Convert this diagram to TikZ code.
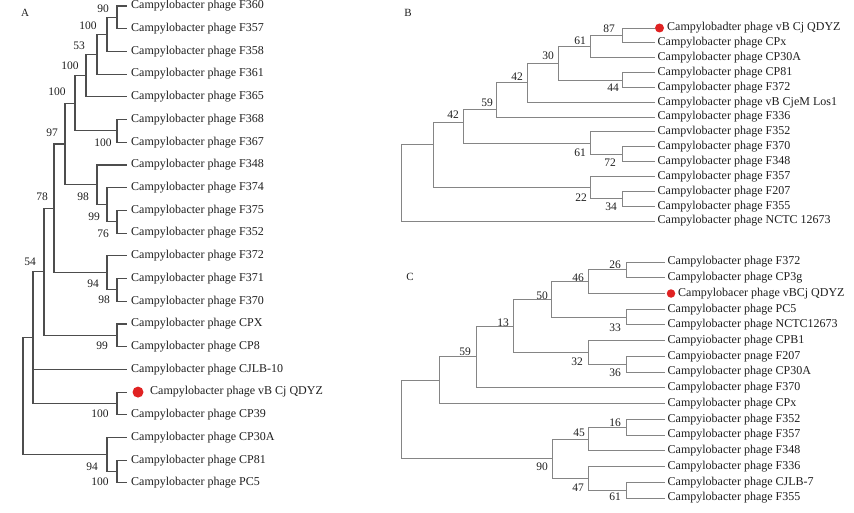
\documentclass[tikz,border=0pt]{standalone}
\usepackage{fontspec}
\setmainfont{Liberation Serif}
\definecolor{txt}{HTML}{1E1E1E}
\definecolor{edAc}{HTML}{4D4D4D}
\definecolor{edBc}{HTML}{858585}
\definecolor{dotred}{HTML}{E02222}
\tikzset{
 leaf/.style={anchor=west, inner xsep=4pt, inner ysep=0pt, text=txt, font=\fontsize{12}{14}\selectfont},
 leafBC/.style={leaf, inner xsep=2.5pt},
 bs/.style={inner sep=0pt, text=txt, font=\fontsize{11.5}{13}\selectfont},
 edA/.style={draw=edAc, line width=1.1pt},
 edB/.style={draw=edBc, line width=0.9pt},
 reddot/.style={circle, fill=dotred, draw=none, inner sep=0pt, minimum size=9pt},
 panel/.style={font=\fontsize{11}{13}\selectfont, text=txt, inner sep=0pt}
}
\begin{document}
\begin{tikzpicture}[x=1pt,y=-1pt]
\useasboundingbox (0,0) rectangle (854,513);
% ================= Panel A =================
\node[panel] (pA) at (25,13) {A};
\node[leaf] (A1) at (127,6) {Campylobacter phage F360};
\node[leaf] (A2) at (127,28.7) {Campylobacter phage F357};
\node[leaf] (A3) at (127,51.4) {Campylobacter phage F358};
\node[leaf] (A4) at (127,74.1) {Campylobacter phage F361};
\node[leaf] (A5) at (127,96.8) {Campylobacter phage F365};
\node[leaf] (A6) at (127,119.6) {Campylobacter phage F368};
\node[leaf] (A7) at (127,142.3) {Campylobacter phage F367};
\node[leaf] (A8) at (127,165) {Campylobacter phage F348};
\node[leaf] (A9) at (127,187.7) {Campylobacter phage F374};
\node[leaf] (A10) at (127,210.4) {Campylobacter phage F375};
\node[leaf] (A11) at (127,233.1) {Campylobacter phage F352};
\node[leaf] (A12) at (127,255.8) {Campylobacter phage F372};
\node[leaf] (A13) at (127,278.5) {Campylobacter phage F371};
\node[leaf] (A14) at (127,301.2) {Campylobacter phage F370};
\node[leaf] (A15) at (127,324) {Campylobacter phage CPX};
\node[leaf] (A16) at (127,346.7) {Campylobacter phage CP8};
\node[leaf] (A17) at (127,369.4) {Campylobacter phage CJLB-10};
\node[leaf] (A18) at (127,392.1) {\hspace*{19pt}Campylobacter phage vB Cj QDYZ};
\node[reddot, minimum size=11pt] (dA) at (138,392.1) {};
\node[leaf] (A19) at (127,414.8) {Campylobacter phage CP39};
\node[leaf] (A20) at (127,437.5) {Campylobacter phage CP30A};
\node[leaf] (A21) at (127,460.2) {Campylobacter phage CP81};
\node[leaf] (A22) at (127,482.9) {Campylobacter phage PC5};
\coordinate (a1) at (117,17.35);
\coordinate (a2) at (107,34.4);
\coordinate (a3) at (97,54.25);
\coordinate (a4) at (86,75.5);
\coordinate (a5) at (117,130.95);
\coordinate (a6) at (75,103.2);
\coordinate (a7) at (117,221.75);
\coordinate (a8) at (107,204.7);
\coordinate (a9) at (97,184.85);
\coordinate (a10) at (65,144);
\coordinate (a11) at (117,289.85);
\coordinate (a12) at (107,272.8);
\coordinate (a13) at (54,208.4);
\coordinate (a14) at (117,335.35);
\coordinate (a15) at (44,271.9);
\coordinate (a16) at (117,403.45);
\coordinate (a17) at (33,337.7);
\coordinate (a18) at (117,471.55);
\coordinate (a19) at (107,454.5);
\coordinate (aR) at (23,396.1);
\draw[edA] (a1) |- (A1); \draw[edA] (a1) |- (A2);
\draw[edA] (a2) |- (a1); \draw[edA] (a2) |- (A3);
\draw[edA] (a3) |- (a2); \draw[edA] (a3) |- (A4);
\draw[edA] (a4) |- (a3); \draw[edA] (a4) |- (A5);
\draw[edA] (a5) |- (A6); \draw[edA] (a5) |- (A7);
\draw[edA] (a6) |- (a4); \draw[edA] (a6) |- (a5);
\draw[edA] (a7) |- (A10); \draw[edA] (a7) |- (A11);
\draw[edA] (a8) |- (A9); \draw[edA] (a8) |- (a7);
\draw[edA] (a9) |- (A8); \draw[edA] (a9) |- (a8);
\draw[edA] (a10) |- (a6); \draw[edA] (a10) |- (a9);
\draw[edA] (a11) |- (A13); \draw[edA] (a11) |- (A14);
\draw[edA] (a12) |- (A12); \draw[edA] (a12) |- (a11);
\draw[edA] (a13) |- (a10); \draw[edA] (a13) |- (a12);
\draw[edA] (a14) |- (A15); \draw[edA] (a14) |- (A16);
\draw[edA] (a15) |- (a13); \draw[edA] (a15) |- (a14);
\draw[edA] (a16) |- (A18); \draw[edA] (a16) |- (A19);
\draw[edA] (a17) |- (a15); \draw[edA] (a17) |- (A17); \draw[edA] (a17) |- (a16);
\draw[edA] (a18) |- (A21); \draw[edA] (a18) |- (A22);
\draw[edA] (a19) |- (A20); \draw[edA] (a19) |- (a18);
\draw[edA] (aR) |- (a17); \draw[edA] (aR) |- (a19);
\node[bs] (la1) at (103,9) {90};
\node[bs] (la2) at (88,26) {100};
\node[bs] (la3) at (79,46) {53};
\node[bs] (la4) at (70,66) {100};
\node[bs] (la5) at (103,143) {100};
\node[bs] (la6) at (57,92) {100};
\node[bs] (la7) at (103,234) {76};
\node[bs] (la8) at (94,217) {99};
\node[bs] (la9) at (83,197) {98};
\node[bs] (la10) at (52,133) {97};
\node[bs] (la11) at (104,300) {98};
\node[bs] (la12) at (93,284) {94};
\node[bs] (la13) at (42,197) {78};
\node[bs] (la14) at (102,346) {99};
\node[bs] (la15) at (30,262) {54};
\node[bs] (la16) at (100,414) {100};
\node[bs] (la18) at (100,482) {100};
\node[bs] (la19) at (92,467) {94};
% ================= Panel B =================
\node[panel] (pB) at (408,13) {B};
\node[leafBC] (B1) at (655,28) {\hspace*{9.5pt}Campylobadter phage vB Cj QDYZ};
\node[reddot] (dB) at (659.5,28) {};
\node[leafBC] (B2) at (655,42.85) {Campylobacter phage CPx};
\node[leafBC] (B3) at (655,57.7) {Campylobacter phage CP30A};
\node[leafBC] (B4) at (655,72.55) {Campylobacter phage CP81};
\node[leafBC] (B5) at (655,87.4) {Campylobacter phage F372};
\node[leafBC] (B6) at (655,102.25) {Campylobacter phage vB CjeM Los1};
\node[leafBC] (B7) at (655,117.1) {Campylobacter phage F336};
\node[leafBC] (B8) at (655,131.95) {Campvlobacter phage F352};
\node[leafBC] (B9) at (655,146.8) {Campylobacter phage F370};
\node[leafBC] (B10) at (655,161.65) {Campylobacter phage F348};
\node[leafBC] (B11) at (655,176.5) {Campylobacter phage F357};
\node[leafBC] (B12) at (655,191.35) {Campylobacter phage F207};
\node[leafBC] (B13) at (655,206.2) {Campylobacter phage F355};
\node[leafBC] (B14) at (655,221.05) {Campylobacter phage NCTC 12673};
\coordinate (b1) at (622,35.4);
\coordinate (b2) at (590,46.55);
\coordinate (b3) at (622,80);
\coordinate (b4) at (558,63.3);
\coordinate (b5) at (527,82.8);
\coordinate (b6) at (496,109);
\coordinate (b7) at (622,154.2);
\coordinate (b8) at (590,143.1);
\coordinate (b9) at (463,122);
\coordinate (b10) at (622,198.8);
\coordinate (b11) at (590,187.6);
\coordinate (b12) at (433,144);
\coordinate (bR) at (401,182);
\draw[edB] (b1) |- (B1); \draw[edB] (b1) |- (B2);
\draw[edB] (b2) |- (b1); \draw[edB] (b2) |- (B3);
\draw[edB] (b3) |- (B4); \draw[edB] (b3) |- (B5);
\draw[edB] (b4) |- (b2); \draw[edB] (b4) |- (b3);
\draw[edB] (b5) |- (b4); \draw[edB] (b5) |- (B6);
\draw[edB] (b6) |- (b5); \draw[edB] (b6) |- (B7);
\draw[edB] (b7) |- (B9); \draw[edB] (b7) |- (B10);
\draw[edB] (b8) |- (B8); \draw[edB] (b8) |- (b7);
\draw[edB] (b9) |- (b6); \draw[edB] (b9) |- (b8);
\draw[edB] (b10) |- (B12); \draw[edB] (b10) |- (B13);
\draw[edB] (b11) |- (B11); \draw[edB] (b11) |- (b10);
\draw[edB] (b12) |- (b9); \draw[edB] (b12) |- (b11);
\draw[edB] (bR) |- (b12); \draw[edB] (bR) |- (B14);
\node[bs] (lb1) at (609,29) {87};
\node[bs] (lb2) at (580,41) {61};
\node[bs] (lb3) at (613,88) {44};
\node[bs] (lb4) at (548,56) {30};
\node[bs] (lb5) at (517,77) {42};
\node[bs] (lb6) at (487,103) {59};
\node[bs] (lb9) at (453,115) {42};
\node[bs] (lb8) at (580,153) {61};
\node[bs] (lb7) at (610,163) {72};
\node[bs] (lb11) at (581,198) {22};
\node[bs] (lb10) at (611,207) {34};
% ================= Panel C =================
\node[panel] (pC) at (410,277) {C};
\node[leafBC] (C1) at (665,262) {Campylobacter phage F372};
\node[leafBC] (C2) at (665,277.7) {Campylobacter phage CP3g};
\node[leafBC] (C3) at (665,293.5) {\hspace*{10.5pt}Campylobacer phage vBCj QDYZ};
\node[reddot, minimum size=8.5pt] (dC) at (671,293.5) {};
\node[leafBC] (C4) at (665,309.2) {Campylobacter phage PC5};
\node[leafBC] (C5) at (665,324.9) {Campylobacter phage NCTC12673};
\node[leafBC] (C6) at (665,340.7) {Campyiobacter phage CPB1};
\node[leafBC] (C7) at (665,356.4) {Campyiobacter pnage F207};
\node[leafBC] (C8) at (665,372.1) {Campylobacter phage CP30A};
\node[leafBC] (C9) at (665,387.8) {Campylobacter phage F370};
\node[leafBC] (C10) at (665,403.6) {Campylobacter phage CPx};
\node[leafBC] (C11) at (665,419.3) {Campyiobacter phage F352};
\node[leafBC] (C12) at (665,435) {Campylobacter phage F357};
\node[leafBC] (C13) at (665,450.8) {Campylobacter phage F348};
\node[leafBC] (C14) at (665,466.5) {Campylobacter phage F336};
\node[leafBC] (C15) at (665,482.2) {Campylobacter phage CJLB-7};
\node[leafBC] (C16) at (665,498) {Campylobacter phage F355};
\coordinate (c1) at (626,269.85);
\coordinate (c2) at (588,281.7);
\coordinate (c3) at (626,317.05);
\coordinate (c4) at (551,299.4);
\coordinate (c5) at (626,364.25);
\coordinate (c6) at (588,352.5);
\coordinate (c7) at (513,325.95);
\coordinate (c8) at (476,356.9);
\coordinate (c9) at (439,380.25);
\coordinate (c10) at (626,427.15);
\coordinate (c11) at (588,439);
\coordinate (c12) at (626,490.1);
\coordinate (c13) at (588,478.3);
\coordinate (c14) at (552,458.65);
\coordinate (cR) at (401,420);
\draw[edB] (c1) |- (C1); \draw[edB] (c1) |- (C2);
\draw[edB] (c2) |- (c1); \draw[edB] (c2) |- (C3);
\draw[edB] (c3) |- (C4); \draw[edB] (c3) |- (C5);
\draw[edB] (c4) |- (c2); \draw[edB] (c4) |- (c3);
\draw[edB] (c5) |- (C7); \draw[edB] (c5) |- (C8);
\draw[edB] (c6) |- (C6); \draw[edB] (c6) |- (c5);
\draw[edB] (c7) |- (c4); \draw[edB] (c7) |- (c6);
\draw[edB] (c8) |- (c7); \draw[edB] (c8) |- (C9);
\draw[edB] (c9) |- (c8); \draw[edB] (c9) |- (C10);
\draw[edB] (c10) |- (C11); \draw[edB] (c10) |- (C12);
\draw[edB] (c11) |- (c10); \draw[edB] (c11) |- (C13);
\draw[edB] (c12) |- (C15); \draw[edB] (c12) |- (C16);
\draw[edB] (c13) |- (C14); \draw[edB] (c13) |- (c12);
\draw[edB] (c14) |- (c11); \draw[edB] (c14) |- (c13);
\draw[edB] (cR) |- (c9); \draw[edB] (cR) |- (c14);
\node[bs] (lc1) at (615,265) {26};
\node[bs] (lc2) at (578,278) {46};
\node[bs] (lc3) at (615,328) {33};
\node[bs] (lc4) at (542,296) {50};
\node[bs] (lc5) at (615,373) {36};
\node[bs] (lc6) at (577,362) {32};
\node[bs] (lc7) at (503,323) {13};
\node[bs] (lc8) at (465,352) {59};
\node[bs] (lc10) at (615,423) {16};
\node[bs] (lc11) at (579,433) {45};
\node[bs] (lc12) at (615,497) {61};
\node[bs] (lc13) at (578,488) {47};
\node[bs] (lc14) at (542,467) {90};
\end{tikzpicture}
\end{document}
